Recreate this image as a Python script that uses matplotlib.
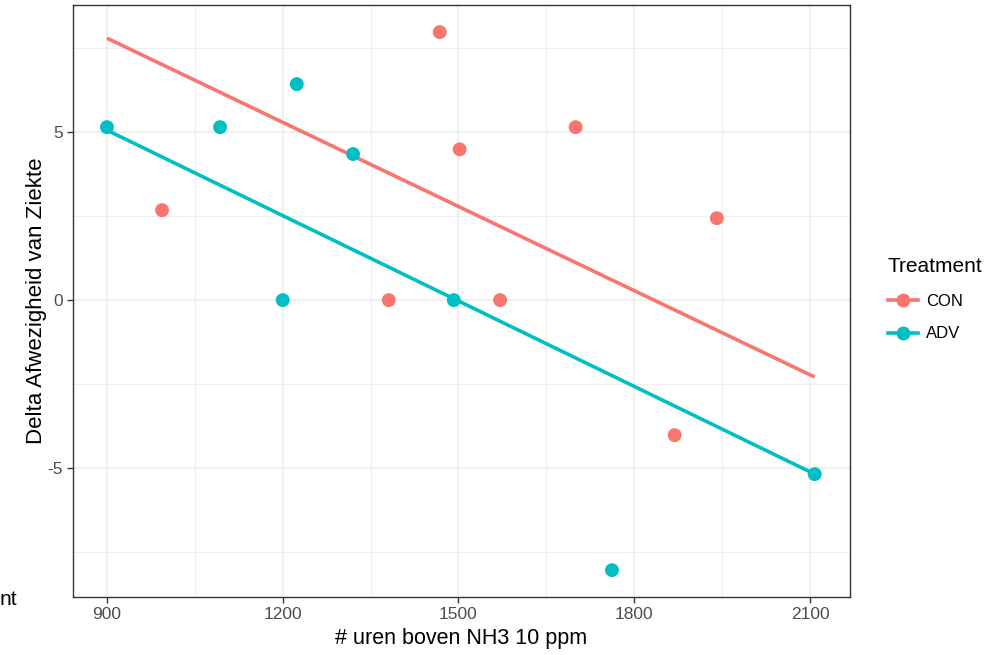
import matplotlib.pyplot as plt
import matplotlib as mpl
import numpy as np
from matplotlib.lines import Line2D

plt.rcParams['font.family'] = ['Liberation Sans', 'DejaVu Sans']
plt.rcParams['axes.unicode_minus'] = False

# data
con_x = [994, 1381, 1468, 1502, 1571, 1700, 1869, 1941]
con_y = [2.68, 0.0, 7.98, 4.49, 0.0, 5.15, -4.02, 2.44]
adv_x = [900, 1093, 1200, 1224, 1320, 1492, 1762, 2108]
adv_y = [5.15, 5.15, 0.0, 6.43, 4.35, 0.0, -8.04, -5.18]

# fitted lines (endpoints)
con_fit_x = [900, 2108]
con_fit_y = [7.80, -2.29]
adv_fit_x = [900, 2108]
adv_fit_y = [5.06, -5.18]

red = '#F8766D'
teal = '#00BFC4'

fig = plt.figure(figsize=(10.01, 6.55), dpi=100)
ax = fig.add_axes([0.0729, 0.0885, 0.7761, 0.9035])

ax.set_xlim(842, 2168)
ax.set_ylim(-8.84, 8.78)
ax.set_xticks([900, 1200, 1500, 1800, 2100])
ax.set_yticks([-5, 0, 5])
ax.set_xticks([1050, 1350, 1650, 1950], minor=True)
ax.set_yticks([-7.5, -2.5, 2.5, 7.5], minor=True)
ax.grid(which='major', color='#EBEBEB', lw=1.1)
ax.grid(which='minor', color='#EBEBEB', lw=0.6)
ax.set_axisbelow(True)
for s in ax.spines.values():
    s.set_color('#333333')
    s.set_linewidth(1.0)
ax.tick_params(which='major', length=4.5, width=1.0, color='#333333',
               labelsize=12.5, labelcolor='#4D4D4D', pad=3)
ax.tick_params(which='minor', length=0)

ax.plot(con_fit_x, con_fit_y, color=red, lw=2.6, solid_capstyle='butt', zorder=2)
ax.plot(adv_fit_x, adv_fit_y, color=teal, lw=2.6, solid_capstyle='butt', zorder=2)
ax.scatter(con_x, con_y, s=100, color=red, edgecolors='none', zorder=3)
ax.scatter(adv_x, adv_y, s=100, color=teal, edgecolors='none', zorder=3)

ax.set_xlabel('# uren boven NH3 10 ppm', fontsize=15.5, labelpad=4)
ax.set_ylabel('Delta Afwezigheid van Ziekte', fontsize=16, labelpad=0)

handles = [Line2D([0], [0], color=red, lw=2.6, marker='o', markersize=10,
                  markeredgecolor='none'),
           Line2D([0], [0], color=teal, lw=2.6, marker='o', markersize=10,
                  markeredgecolor='none')]
fig.legend(handles, ['CON', 'ADV'], title='Treatment', loc='center left',
           bbox_to_anchor=(0.872, 0.543), frameon=False, fontsize=12,
           title_fontsize=15, handlelength=1.8, handletextpad=0.5,
           labelspacing=1.05, alignment='left')

fig.text(0.0, 0.084, 'nt', fontsize=15, ha='left', va='center')

plt.savefig('out.png', dpi=100)
